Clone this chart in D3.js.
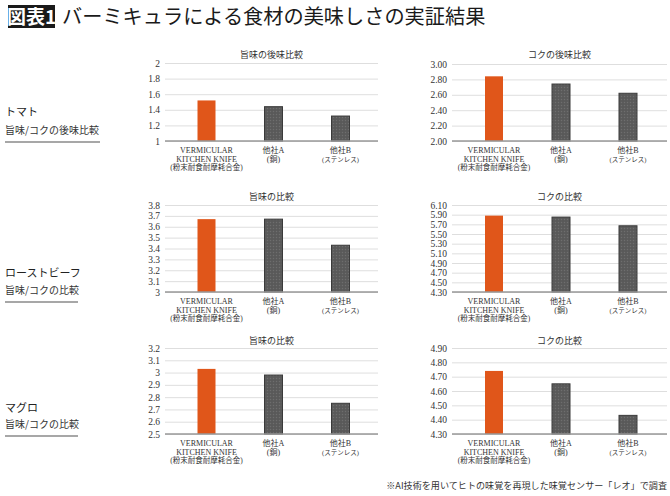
<!DOCTYPE html>
<html><head><meta charset="utf-8">
<script src="https://cdn.jsdelivr.net/npm/d3@7"></script>
<style>
html,body{margin:0;padding:0;background:#fff;}
svg{display:block;}
</style></head>
<body>
<svg id="c" width="670" height="496"></svg>
<script>
const categories = ["vermicular","otherA","otherB"];
const catLabels = [["VERMICULAR","KITCHEN KNIFE","(粉末耐食耐摩耗合金)"],["他社A","(銅)"],["他社B","(ステンレス)"]];
const rowLabels = ["トマト","ローストビーフ","マグロ"];
const rowSubLabels = ["旨味/コクの後味比較","旨味/コクの比較","旨味/コクの比較"];
const panelTitles = ["旨味の後味比較","コクの後味比較","旨味の比較","コクの比較","旨味の比較","コクの比較"];

const tomatoUmami = [1.52, 1.44, 1.32];
const tomatoKoku = [2.84, 2.74, 2.62];
const beefUmami = [3.67, 3.67, 3.43];
const beefKoku = [5.88, 5.85, 5.67];
const tunaUmami = [3.03, 2.98, 2.75];
const tunaKoku = [4.74, 4.65, 4.43];

const ticks1 = [1, 1.2, 1.4, 1.6, 1.8, 2];
const ticks2 = [2.00, 2.20, 2.40, 2.60, 2.80, 3.00];
const ticks3 = [3, 3.1, 3.2, 3.3, 3.4, 3.5, 3.6, 3.7, 3.8];
const ticks4 = [4.30, 4.50, 4.70, 4.90, 5.10, 5.30, 5.50, 5.70, 5.90, 6.10];
const ticks5 = [2.5, 2.6, 2.7, 2.8, 2.9, 3, 3.1, 3.2];
const ticks6 = [4.30, 4.40, 4.50, 4.60, 4.70, 4.80, 4.90];

const svg = d3.select("#c");
const serif = "'Liberation Serif','Noto Sans CJK JP',serif";
const cjk = "'Noto Sans CJK JP',sans-serif";

const defs = svg.append("defs");
const pat = defs.append("pattern").attr("id","hatch").attr("width",3).attr("height",3).attr("patternUnits","userSpaceOnUse");
pat.append("rect").attr("width",3).attr("height",3).attr("fill","#5c5c5c");
pat.append("rect").attr("x",0).attr("y",0).attr("width",1).attr("height",1).attr("fill","#6e6e6e");
pat.append("rect").attr("x",1.5).attr("y",1.5).attr("width",1).attr("height",1).attr("fill","#4e4e4e");

// Title
svg.append("rect").attr("x",8).attr("y",5).attr("width",47).attr("height",23).attr("fill","#1a1a1a");
svg.append("text").attr("x",31.5).attr("y",23.5).attr("text-anchor","middle").attr("fill","#fff")
  .attr("font-family",cjk).attr("font-size",19).attr("font-weight",700).text("図表1");
svg.append("text").attr("x",62).attr("y",24).attr("fill","#1a1a1a")
  .attr("font-family",cjk).attr("font-size",20.2).text("バーミキュラによる食材の美味しさの実証結果");

// Row labels
const rowY = [[116,134,142],[277,294,302],[412,428,436]];
const underlineW = [95,73,73];
rowLabels.forEach((l,i)=>{
  svg.append("text").attr("x",5).attr("y",rowY[i][0]).attr("font-family",cjk).attr("font-size",11).attr("fill","#222").text(l);
  svg.append("text").attr("x",5).attr("y",rowY[i][1]).attr("font-family",cjk).attr("font-size",10).attr("fill","#333").text(rowSubLabels[i]);
  svg.append("line").attr("x1",5).attr("x2",5+underlineW[i]).attr("y1",rowY[i][2]).attr("y2",rowY[i][2]).attr("stroke","#8a8a8a").attr("stroke-width",1.3);
});

const panels = [
  {vals:tomatoUmami, ticks:ticks1, dec:-1, left:165, right:378, top:63, bottom:141, titleY:54, cr:[173,374]},
  {vals:tomatoKoku, ticks:ticks2, dec:2, left:452, right:667, top:64, bottom:141, titleY:54, cr:[460.5,661.5]},
  {vals:beefUmami, ticks:ticks3, dec:-1, left:165, right:378, top:205, bottom:292, titleY:196, cr:[173,374]},
  {vals:beefKoku, ticks:ticks4, dec:2, left:452, right:667, top:205, bottom:292, titleY:196, cr:[460.5,661.5]},
  {vals:tunaUmami, ticks:ticks5, dec:-1, left:165, right:378, top:348, bottom:434, titleY:340, cr:[173,374]},
  {vals:tunaKoku, ticks:ticks6, dec:2, left:452, right:667, top:348, bottom:434, titleY:340, cr:[460.5,661.5]},
];

panels.forEach((p,pi)=>{
  const g = svg.append("g");
  const y = d3.scaleLinear().domain([p.ticks[0], p.ticks[p.ticks.length-1]]).range([p.bottom,p.top]);
  const x = d3.scalePoint().domain(categories).range(p.cr).padding(0.5);
  const fmt = p.dec>0 ? d3.format(".2f") : (d=>String(+d.toFixed(1)));
  const yAxis = d3.axisLeft(y).tickValues(p.ticks).tickFormat(fmt).tickSize(-(p.right-p.left)).tickPadding(5);
  const ag = g.append("g").attr("transform",`translate(${p.left},0)`).call(yAxis);
  ag.select(".domain").remove();
  ag.selectAll(".tick line").attr("stroke","#d6d6d6").attr("stroke-width",0.8);
  ag.selectAll(".tick text").attr("font-family",serif).attr("font-size",9.5).attr("fill","#333");
  g.append("text").attr("x",(p.left+p.right)/2).attr("y",p.titleY+4).attr("text-anchor","middle")
    .attr("font-family",cjk).attr("font-size",9).attr("fill","#333").text(panelTitles[pi]);
  const bw = 18;
  g.selectAll("rect.bar").data(p.vals).join("rect").attr("class","bar")
    .attr("x",(d,i)=>x(categories[i])-bw/2).attr("width",bw)
    .attr("y",d=>y(d)).attr("height",d=>p.bottom-y(d))
    .attr("fill",(d,i)=>i===0?"#e0561a":"url(#hatch)")
    .attr("stroke",(d,i)=>i===0?"none":"#3a3a3a").attr("stroke-width",1);
  g.append("line").attr("x1",p.left).attr("x2",p.right).attr("y1",p.bottom).attr("y2",p.bottom).attr("stroke","#999").attr("stroke-width",1.5);
  categories.forEach((c,i)=>{
    catLabels[i].forEach((t,j)=>{
      const small = (j===1 && i===2);
      g.append("text").attr("x",x(c)).attr("y",p.bottom+12+j*8.5).attr("text-anchor","middle")
        .attr("font-family",serif).attr("font-size",small?6.5:(j===2?7.5:8)).attr("fill","#333").text(t);
    });
  });
});

svg.append("text").attr("x",667).attr("y",489).attr("text-anchor","end").attr("font-family",cjk)
  .attr("font-size",9.1).attr("fill","#333").text("※AI技術を用いてヒトの味覚を再現した味覚センサー「レオ」で調査");
</script>
</body></html>
